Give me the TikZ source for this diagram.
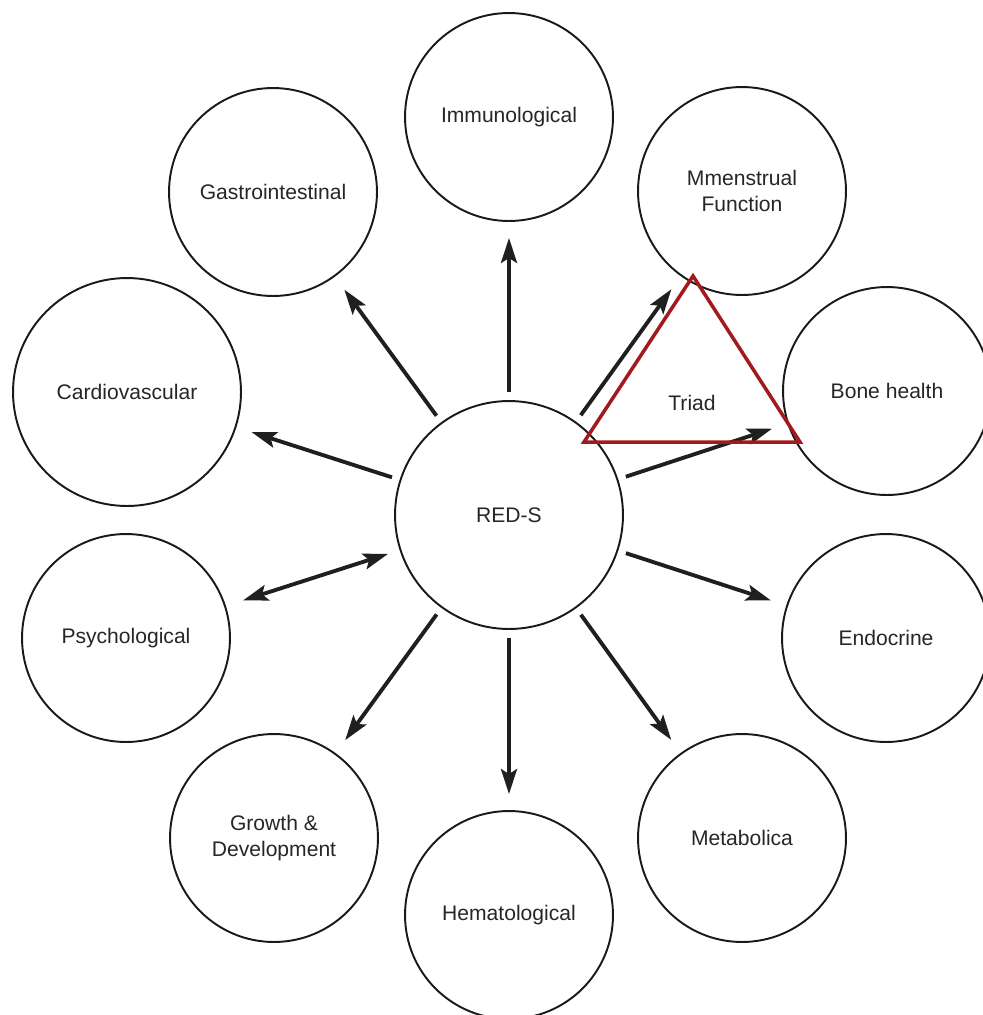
\documentclass[tikz,border=0pt]{standalone}
\usepackage{fontspec}
\setmainfont{Liberation Sans}
\usetikzlibrary{arrows.meta}

\begin{document}
\begin{tikzpicture}[x=0.02cm,y=-0.02cm]

\tikzstyle{organ} = [circle,draw=black!90,line width=1.1pt,fill=none,inner sep=0,minimum size=4.16cm,font=\fontsize{12}{14.5}\selectfont,text=black!85,align=center]%
\tikzstyle{organbig} = [organ,minimum size=4.56cm]%
\tikzstyle{effect} = [-{Stealth[length=0.5cm,width=0.32cm,inset=0.1cm]},line width=2.2pt,draw=black!88,shorten <=0.16cm,shorten >=0.32cm]%
\tikzstyle{both} = [effect,{Stealth[length=0.5cm,width=0.32cm,inset=0.1cm]}-{Stealth[length=0.5cm,width=0.32cm,inset=0.1cm]},shorten <=0.24cm,shorten >=0.36cm]%
\tikzstyle{triad} = [draw={rgb,255:red,163;green,26;blue,30},line width=2pt,line join=miter]%

\useasboundingbox (0,0) rectangle (983,1015);

\node[organbig] (reds) at (509, 515) {RED-S};

\node[organ] (immuno) at (509, 117) {Immunological};
\node[organ] (gastro) at (273, 192) {Gastrointestinal};
\node[organ] (mens) at (742, 191) {Mmenstrual\\Function};
\node[organbig] (cardio) at (127, 392) {Cardiovascular};
\node[organ] (bone) at (887, 391) {Bone health};
\node[organ] (psych) at (126, 638) {Psychological};
\node[organ] (endo) at (886, 638) {Endocrine};
\node[organ] (growth) at (274, 838) {Growth \&\\Development};
\node[organ] (hemato) at (509, 915) {Hematological};
\node[organ] (metab) at (742, 838) {Metabolica};

\draw[effect] (reds) -- (immuno);
\draw[effect] (reds) -- (gastro);
\draw[effect] (reds) -- (mens);
\draw[effect] (reds) -- (cardio);
\draw[effect] (reds) -- (bone);
\draw[both] (reds) -- (psych);
\draw[effect] (reds) -- (endo);
\draw[effect] (reds) -- (growth);
\draw[effect] (reds) -- (hemato);
\draw[effect] (reds) -- (metab);

% female athlete triad
\coordinate (tritop) at (693, 276);
\coordinate (trileft) at (584, 442);
\coordinate (triright) at (800, 442);
\draw[triad] (tritop) -- (trileft) -- (triright) -- cycle;
\node[font=\fontsize{12}{14.5}\selectfont,text=black!85] (triadlabel) at (692, 403) {Triad};

\end{tikzpicture}
\end{document}
